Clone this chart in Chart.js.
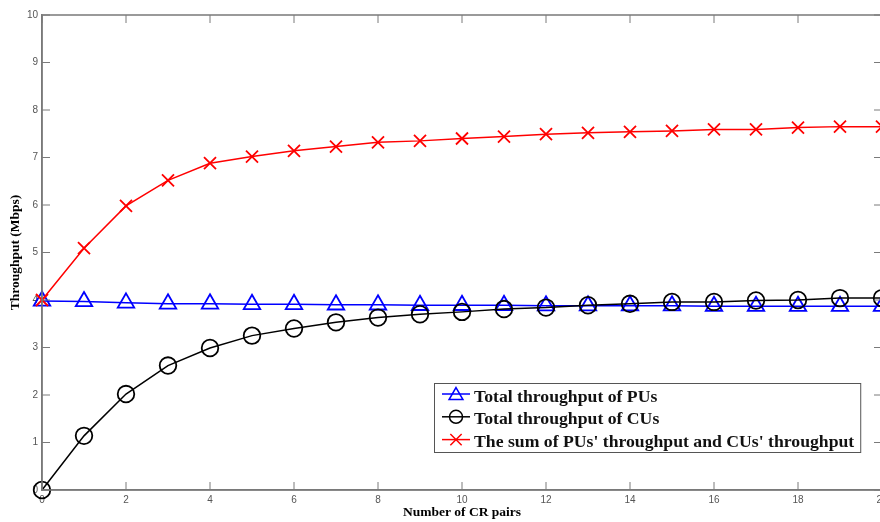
<!DOCTYPE html>
<html lang="en">
<head>
<meta charset="UTF-8">
<title>Throughput vs number of CR pairs</title>
<script src="https://cdn.jsdelivr.net/npm/chart.js@4.4.1/dist/chart.umd.min.js"></script>
<style>
    html, body { margin: 0; padding: 0; background: #fff; overflow: hidden; }
    #wrap { width: 900px; height: 522px; }
</style>
</head>
<body>
<div id="wrap"><canvas id="tp" width="900" height="522"></canvas></div>
<script>
// values
var pairs = [0, 1, 2, 3, 4, 5, 6, 7, 8, 9, 10, 11, 12, 13, 14, 15, 16, 17, 18, 19, 20];
var puThroughput = [3.98, 3.97, 3.94, 3.92, 3.92, 3.91, 3.91, 3.90, 3.90, 3.89, 3.89,
                    3.89, 3.88, 3.88, 3.88, 3.88, 3.87, 3.87, 3.87, 3.87, 3.87];
var cuThroughput = [0.00, 1.14, 2.02, 2.62, 2.99, 3.25, 3.40, 3.53, 3.63, 3.70, 3.75,
                    3.81, 3.84, 3.89, 3.92, 3.96, 3.96, 3.99, 4.00, 4.04, 4.04];
var sumThroughput = [4.00, 5.09, 5.98, 6.52, 6.88, 7.02, 7.14, 7.23, 7.32, 7.35, 7.40,
                     7.44, 7.49, 7.52, 7.54, 7.56, 7.59, 7.59, 7.63, 7.65, 7.65];
var xTicks = [0, 2, 4, 6, 8, 10, 12, 14, 16, 18, 20];
var yTicks = [0, 1, 2, 3, 4, 5, 6, 7, 8, 9, 10];
var seriesNames = ["Total throughput of PUs", "Total throughput of CUs",
                   "The sum of PUs' throughput and CUs' throughput"];

function toPoints(ys) {
    return pairs.map(function (x, i) { return { x: x, y: ys[i] }; });
}

var axisGrey = "#7a7a7a";
var tickFont = { family: "Liberation Sans", size: 10 };
var titleFont = { family: "Liberation Serif", size: 13.5, weight: "bold" };

function markerPath(ctx, style, x, y, r) {
    ctx.beginPath();
    if (style === "triangle") {
        for (var k = 0; k < 3; k++) {
            var a = k * 2 * Math.PI / 3;
            var px = x + Math.sin(a) * r, py = y - Math.cos(a) * r;
            if (k === 0) ctx.moveTo(px, py); else ctx.lineTo(px, py);
        }
        ctx.closePath();
    } else if (style === "circle") {
        ctx.arc(x, y, r, 0, 2 * Math.PI);
    } else {
        var d = r * Math.SQRT1_2;
        ctx.moveTo(x - d, y - d); ctx.lineTo(x + d, y + d);
        ctx.moveTo(x + d, y - d); ctx.lineTo(x - d, y + d);
    }
    ctx.stroke();
}

// box round the plot plus inward tick marks, matlab style
var framePlugin = {
    id: "frame",
    afterDraw: function (chart) {
        var ctx = chart.ctx, a = chart.chartArea;
        var xs = chart.scales.x, ys = chart.scales.y;
        var tl = 8;
        ctx.save();
        ctx.strokeStyle = axisGrey;
        ctx.lineWidth = 1.5;
        ctx.strokeRect(a.left, a.top, a.right - a.left, a.bottom - a.top);
        ctx.beginPath();
        xTicks.forEach(function (v) {
            var px = xs.getPixelForValue(v);
            ctx.moveTo(px, a.bottom); ctx.lineTo(px, a.bottom - tl);
            ctx.moveTo(px, a.top); ctx.lineTo(px, a.top + tl);
        });
        yTicks.forEach(function (v) {
            var py = ys.getPixelForValue(v);
            ctx.moveTo(a.left, py); ctx.lineTo(a.left + tl, py);
            ctx.moveTo(a.right, py); ctx.lineTo(a.right - tl, py);
        });
        ctx.lineWidth = 1;
        ctx.stroke();
        ctx.restore();
    }
};

// legend box in the lower right of the plot
var legendMarkerSize = [8, 6.5, 8];
var legendPlugin = {
    id: "boxLegend",
    afterDraw: function (chart) {
        var ctx = chart.ctx, a = chart.chartArea;
        ctx.save();
        ctx.font = "bold 17.7px 'Liberation Serif'";
        var w = 0;
        seriesNames.forEach(function (s) { w = Math.max(w, ctx.measureText(s).width); });
        var bx = a.left + 392, by = a.bottom - 107, bw = 40 + w + 6, bh = 69;
        ctx.fillStyle = "#fff";
        ctx.fillRect(bx, by, bw, bh);
        ctx.strokeStyle = "#555";
        ctx.lineWidth = 1;
        ctx.strokeRect(bx + 0.5, by + 0.5, bw, bh);
        chart.data.datasets.forEach(function (ds, i) {
            var cy = by + 11 + i * 22.8;
            ctx.strokeStyle = ds.borderColor;
            ctx.lineWidth = 1.5;
            ctx.beginPath();
            ctx.moveTo(bx + 8, cy); ctx.lineTo(bx + 36, cy);
            ctx.stroke();
            markerPath(ctx, ds.pointStyle, bx + 22, cy + (ds.pointStyle === "triangle" ? 1.5 : 0), legendMarkerSize[i]);
            ctx.fillStyle = "#111";
            ctx.textBaseline = "alphabetic";
            ctx.fillText(seriesNames[i], bx + 40, cy + 7.5);
        });
        ctx.restore();
    }
};

var ctx = document.getElementById("tp").getContext("2d");
var tpChart = new Chart(ctx, {
    type: "line",
    data: {
        datasets: [{
            label: seriesNames[0],
            data: toPoints(puThroughput),
            borderColor: "#0000ff",
            pointStyle: "triangle",
            pointRadius: 9.5,
            order: 3
        }, {
            label: seriesNames[1],
            data: toPoints(cuThroughput),
            borderColor: "#000000",
            pointStyle: "circle",
            pointRadius: 8.3,
            order: 2
        }, {
            label: seriesNames[2],
            data: toPoints(sumThroughput),
            borderColor: "#ff0000",
            pointStyle: "crossRot",
            pointRadius: 8.5,
            order: 1
        }]
    },
    options: {
        responsive: false,
        animation: false,
        layout: { padding: { top: 15, right: 18, left: 0, bottom: 0 } },
        elements: {
            line: { borderWidth: 1.5, tension: 0 },
            point: { backgroundColor: "rgba(0,0,0,0)", borderWidth: 1.8, hoverRadius: 8 }
        },
        datasets: { line: { clip: false } },
        plugins: { legend: { display: false }, tooltip: { enabled: false } },
        scales: {
            x: {
                type: "linear",
                min: 0, max: 20,
                afterBuildTicks: function (s) { s.ticks = xTicks.map(function (v) { return { value: v }; }); },
                afterFit: function (s) { s.height = 32; },
                grid: { display: false, drawTicks: false },
                border: { display: true, color: axisGrey, width: 1.5 },
                ticks: { font: tickFont, color: "#555", padding: 4, maxRotation: 0 },
                title: { display: true, text: "Number of CR pairs", font: titleFont, color: "#000", padding: { top: 0, bottom: 1.2 } }
            },
            y: {
                min: 0, max: 10,
                afterBuildTicks: function (s) { s.ticks = yTicks.map(function (v) { return { value: v }; }); },
                afterFit: function (s) { s.width = 42; },
                grid: { display: false, drawTicks: false },
                border: { display: true, color: axisGrey, width: 1.5 },
                ticks: { font: tickFont, color: "#555", padding: 4 },
                title: { display: true, text: "Throughput (Mbps)", font: titleFont, color: "#000", padding: { top: 7, bottom: 0 } }
            }
        }
    },
    plugins: [framePlugin, legendPlugin]
});
</script>
</body>
</html>
